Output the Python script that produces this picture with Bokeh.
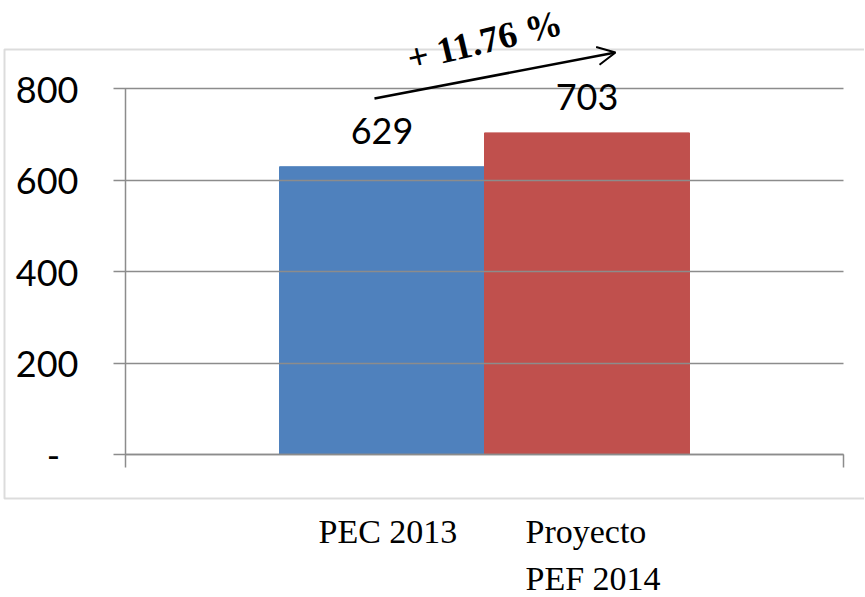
from bokeh.plotting import figure
from bokeh.models import (Range1d, FixedTicker, LabelSet, Label, Arrow, OpenHead,
                          BoxAnnotation, ColumnDataSource)
from bokeh.core.properties import value
from bokeh.embed import file_html
from bokeh.resources import INLINE

# ---- data ----
series = ["PEC 2013", "Proyecto PEF 2014"]
values = [629, 703]
colors = ["#4F81BD", "#C0504D"]
y_ticks = [0, 200, 400, 600, 800]
y_tick_labels = ["-\u00a0\u00a0", "200", "400", "600", "800"]
change_label = "+ 11.76 %"

NUM_FONT = "Lato"
SERIF = "Liberation Serif"
GRAY = "#8c8c8c"

W, H = 864, 596
# plot area in canvas pixels
PL, PR, PT, PB = 125, 843, 88, 454
YMAX = 800
sx = (PR - PL)          # px per x unit
sy = (PB - PT) / YMAX   # px per y unit
LABEL_SHIFT = 12        # compensate label box offset (px)


def dx(px):
    return (px - PL) / sx


def dy(py):
    return (PB - py) / sy


p = figure(width=W, height=H, output_backend="svg", toolbar_location=None,
           x_range=Range1d(dx(0), dx(W)), y_range=Range1d(dy(H), dy(0)),
           min_border=0)
p.min_border_left = p.min_border_right = p.min_border_top = p.min_border_bottom = 0
p.outline_line_color = None
p.background_fill_color = "white"
p.border_fill_color = "white"
p.xgrid.grid_line_color = None
p.ygrid.grid_line_color = None

# bars: one group centred at 0.5, two series side by side
w = 0.2855
xs = [0.5 - w / 2, 0.5 + w / 2]
src = ColumnDataSource(dict(x=xs, top=values, color=colors, label=[str(v) for v in values]))
p.vbar(x="x", top="top", width=w, color="color", source=src)

# y axis placed at x=0; long inward ticks act as gridlines
yax = p.yaxis[0]
yax.fixed_location = 0
yax.bounds = (0, YMAX)
yax.ticker = FixedTicker(ticks=y_ticks)
yax.major_label_overrides = {t: l for t, l in zip(y_ticks, y_tick_labels)}
yax.major_label_text_font = NUM_FONT
yax.major_label_text_font_size = "36px"
yax.major_label_text_color = "black"
yax.major_label_standoff = 35
yax.major_tick_out = 12
yax.major_tick_in = PR - PL
yax.minor_tick_line_color = None
yax.axis_line_color = GRAY
yax.axis_line_width = 1.5
yax.major_tick_line_color = GRAY
yax.major_tick_line_width = 1.5

# x axis at y=0 (ticks at category edges, no labels)
xax = p.xaxis[0]
xax.fixed_location = 0
xax.bounds = (0, 1)
xax.ticker = FixedTicker(ticks=[0, 1])
xax.major_label_text_color = None
xax.major_label_text_font_size = "1px"
xax.major_tick_out = 13
xax.major_tick_in = 0
xax.minor_tick_line_color = None
xax.axis_line_color = GRAY
xax.axis_line_width = 1.5
xax.major_tick_line_color = GRAY
xax.major_tick_line_width = 1.5

# value labels
p.add_layout(LabelSet(x="x", y="top", text="label", source=src, y_offset=23,
                      text_align="center", text_baseline="alphabetic",
                      text_font=value(NUM_FONT), text_font_size="36px",
                      text_color="black"))

# outer chart border (open on the right edge like the original)
p.add_layout(BoxAnnotation(left=dx(4), right=dx(872), top=dy(49), bottom=dy(498),
                           fill_alpha=0, fill_color=None,
                           line_color=GRAY, line_width=2))

# growth arrow and label
p.add_layout(Arrow(x_start=dx(374), y_start=dy(98), x_end=dx(615), y_end=dy(52),
                   line_width=2.5, line_color="black",
                   end=OpenHead(size=18, line_width=2, line_color="black")))
p.add_layout(Label(x=dx(484), y=dy(40), text=change_label, angle=13.5, angle_units="deg",
                   text_align="center", text_baseline="middle",
                   text_font=SERIF, text_font_style="bold", text_font_size="37px",
                   text_color="black"))

# legend-like series names below the chart box
p.add_layout(Label(x=dx(318), y=dy(543 - LABEL_SHIFT), text=series[0], text_align="left",
                   text_baseline="alphabetic", text_font=SERIF, text_font_size="34px",
                   text_color="black"))
p.add_layout(Label(x=dx(525), y=dy(543 - LABEL_SHIFT), text="Proyecto", text_align="left",
                   text_baseline="alphabetic", text_font=SERIF, text_font_size="34px",
                   text_color="black"))
p.add_layout(Label(x=dx(525), y=dy(590 - LABEL_SHIFT), text="PEF 2014", text_align="left",
                   text_baseline="alphabetic", text_font=SERIF, text_font_size="34px",
                   text_color="black"))

open("out.html", "w").write(file_html(p, INLINE))
